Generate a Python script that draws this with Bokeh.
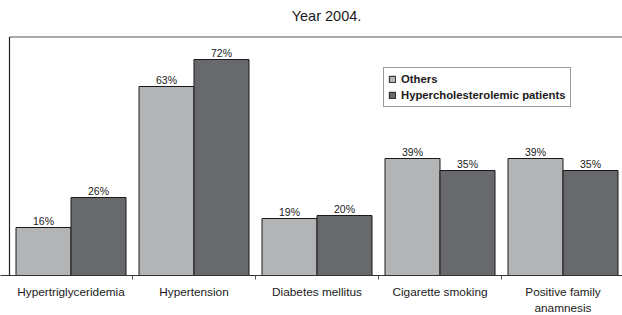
from bokeh.plotting import figure
from bokeh.models import (ColumnDataSource, Range1d, FixedTicker, Label,
                          Legend, LegendItem)
from bokeh.core.properties import value
from bokeh.transform import dodge
from bokeh.embed import file_html
from bokeh.resources import INLINE

categories = ["Hypertriglyceridemia", "Hypertension", "Diabetes mellitus",
              "Cigarette smoking", "Positive family\nanamnesis"]
others = [16, 63, 19, 39, 39]
hyper = [26, 72, 20, 35, 35]
series_names = ["Others", "Hypercholesterolemic patients"]
title_text = "Year 2004."

FONT = "Liberation Sans"
TXT = "#1a1a1a"

idx = list(range(len(categories)))
src = ColumnDataSource(dict(
    x=idx, others=others, hyper=hyper,
    others_lbl=[f"{v}%" for v in others],
    hyper_lbl=[f"{v}%" for v in hyper],
))

W, H = 622, 315
px_per_unit = 123.0
px_per_pct = 3.0
frame_h = 275
x0 = -0.5 - 9.0 / px_per_unit
x1 = x0 + W / px_per_unit
y_top = frame_h / px_per_pct
frame_top_val = (frame_h - 36.5) / px_per_pct

p = figure(frame_width=W, frame_height=frame_h,
           x_range=Range1d(x0, x1), y_range=Range1d(0, y_top),
           output_backend="svg", toolbar_location=None,
           min_border_left=0, min_border_right=0, min_border_top=0,
           min_border_bottom=H - frame_h)
p.outline_line_color = None
p.background_fill_color = "white"
p.border_fill_color = "white"
p.xgrid.visible = False
p.ygrid.visible = False
p.yaxis.visible = False

bw = 55.0 / px_per_unit
off = bw / 2

r1 = p.vbar(x=dodge("x", -off, range=p.x_range), top="others", width=bw,
            source=src, fill_color="#b3b4b6", line_color="#1a1a1a", line_width=1)
r2 = p.vbar(x=dodge("x", off, range=p.x_range), top="hyper", width=bw,
            source=src, fill_color="#68696c", line_color="#1a1a1a", line_width=1)

for col, lbl, o in (("others", "others_lbl", -off), ("hyper", "hyper_lbl", off)):
    p.text(x=dodge("x", o, range=p.x_range), y=col, text=lbl, source=src,
           text_align="center", text_baseline="bottom", y_offset=-1,
           text_font_size="10.5px", text_font=value(FONT), text_color=TXT)

# chart frame: grey top edge, dark left edge
p.segment(x0=[-0.5], y0=[frame_top_val], x1=[x1], y1=[frame_top_val],
          line_color="#8c8c8c", line_width=1.5)
p.segment(x0=[-0.5], y0=[0], x1=[-0.5], y1=[frame_top_val],
          line_color="#222222", line_width=1.2)

# title
p.add_layout(Label(x=(326 - 9) / px_per_unit - 0.5, y=(frame_h - 15) / px_per_pct,
                   text=title_text, text_align="center", text_baseline="middle",
                   text_font_size="14.5px", text_font=FONT, text_color=TXT))

ax = p.xaxis[0]
ax.ticker = FixedTicker(ticks=idx, minor_ticks=[i + 0.5 for i in idx[:-1]])
ax.major_label_overrides = {i: c for i, c in zip(idx, categories)}
ax.major_tick_line_color = None
ax.major_tick_out = 0
ax.major_tick_in = 0
ax.minor_tick_out = 4
ax.minor_tick_in = 0
ax.minor_tick_line_color = "#555555"
ax.axis_line_color = "#333333"
ax.axis_line_width = 1.2
ax.major_label_standoff = 5
ax.major_label_text_font = FONT
ax.major_label_text_font_size = "11.8px"
ax.major_label_text_line_height = 1.15
ax.major_label_text_color = TXT

legend = Legend(items=[LegendItem(label=series_names[0], renderers=[r1]),
                       LegendItem(label=series_names[1], renderers=[r2])],
                location=(383, frame_h - 107), orientation="vertical",
                padding=4, spacing=2, margin=0,
                glyph_width=8, glyph_height=8, label_standoff=5,
                label_height=14, label_text_font=FONT, label_text_font_style="bold",
                label_text_font_size="11.3px", label_text_color=TXT,
                border_line_color="#333333", border_line_width=1,
                background_fill_alpha=1.0)
p.add_layout(legend)

open("out.html", "w").write(file_html(p, INLINE))
